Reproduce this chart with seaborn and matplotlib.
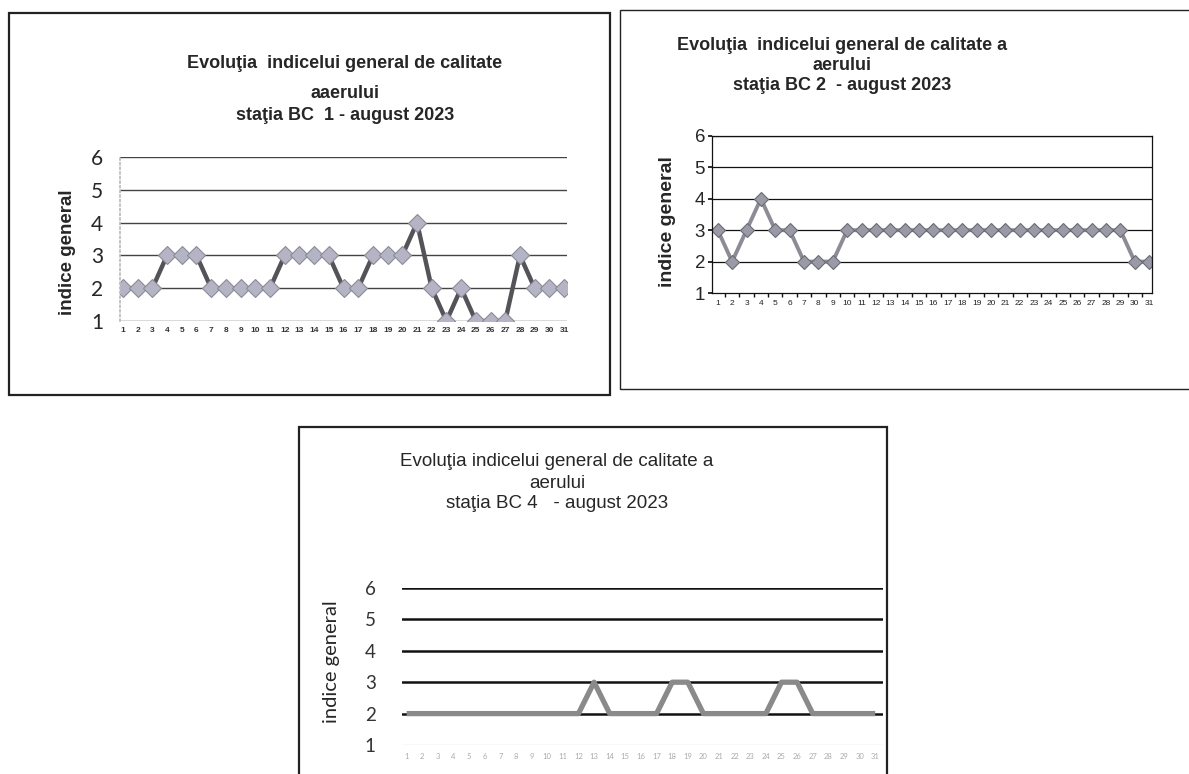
import numpy as np
import pandas as pd
import matplotlib
matplotlib.use("Agg")
import matplotlib.pyplot as plt
import seaborn as sns
from matplotlib.patches import Rectangle
from matplotlib.ticker import FixedLocator

# --- Data ---
days = list(range(1, 32))
bc1 = [2, 2, 2, 3, 3, 3, 2, 2, 2, 2, 2, 3, 3, 3, 3, 2, 2, 3, 3, 3,
       4, 2, 1, 2, 1, 1, 1, 3, 2, 2, 2]
bc2 = [3, 2, 3, 4, 3, 3, 2, 2, 2, 3, 3, 3, 3, 3, 3, 3, 3, 3, 3, 3,
       3, 3, 3, 3, 3, 3, 3, 3, 3, 2, 2]
bc4 = [2, 2, 2, 2, 2, 2, 2, 2, 2, 2, 2, 2, 3, 2, 2, 2, 2, 3, 3, 2,
       2, 2, 2, 2, 3, 3, 2, 2, 2, 2, 2]
y_ticks = [1, 2, 3, 4, 5, 6]

titles_bc1 = ["Evoluţia  indicelui general de calitate", "aaerului",
              "staţia BC  1 - august 2023"]
titles_bc2 = ["Evoluţia  indicelui general de calitate a", "aerului",
              "staţia BC 2  - august 2023"]
titles_bc4 = ["Evoluţia indicelui general de calitate a", "aerului",
              "staţia BC 4   - august 2023"]
ylabel = "indice general"

sns.set_theme(style="white")
plt.rcParams['font.family'] = ['Liberation Sans', 'DejaVu Sans']
CAL = ['Lato', 'DejaVu Sans']   # stand-in for Calibri

W, H = 1189, 774
fig = plt.figure(figsize=(W / 100, H / 100), dpi=100)


def px_axes(x0, y0, x1, y1):
    # pixel box (top-left origin) -> figure axes
    return fig.add_axes([x0 / W, 1 - y1 / H, (x1 - x0) / W, (y1 - y0) / H])


def px_box(x0, y0, x1, y1, lw):
    fig.patches.append(Rectangle((x0 / W, 1 - y1 / H), (x1 - x0) / W, (y1 - y0) / H,
                                 transform=fig.transFigure, fill=False,
                                 edgecolor="#222222", linewidth=lw))


def px_text(x, y, s, **kw):
    fig.text(x / W, 1 - y / H, s, ha="center", va="center", **kw)


# ---------------- Panel 1: BC 1 ----------------
px_box(9, 13, 610, 395, 1.6)
ax1 = px_axes(120, 157, 567, 321)
df1 = pd.DataFrame({"zi": days, "indice": bc1})
sns.lineplot(data=df1, x="zi", y="indice", ax=ax1, color="#545458", linewidth=3.2,
             marker="D", markersize=9, markerfacecolor="#b4b4c4",
             markeredgecolor="#8a8a98", markeredgewidth=0.8)
ax1.set_ylim(1, 6)
ax1.set_xlim(0.8, 31.2)
ax1.yaxis.set_major_locator(FixedLocator(y_ticks))
ax1.set_yticklabels([str(v) for v in y_ticks], fontsize=15, family=CAL)
ax1.set_xticks(days)
ax1.set_xticklabels([str(d) for d in days], fontsize=6, fontweight="bold", color="#333333")
for y in y_ticks:
    ax1.axhline(y, color="#444444", linewidth=1.0, zorder=0)
for s in ["top", "right", "bottom"]:
    ax1.spines[s].set_visible(False)
ax1.spines["left"].set_color("#bbbbbb")
ax1.spines["left"].set_linestyle(":")
ax1.tick_params(axis="both", length=0, pad=4)
ax1.tick_params(axis="y", pad=12)
ax1.set_xlabel("")
ax1.set_ylabel("")
fig.text(67 / W, 1 - 252 / H, ylabel, rotation=90, ha="center", va="center",
         fontsize=13.5, fontweight="bold")
for txt, yy in zip(titles_bc1, [64, 94, 115]):
    px_text(345, yy, txt, fontsize=13, fontweight="bold")

# ---------------- Panel 2: BC 2 ----------------
px_box(620, 10, 1195, 389, 1.0)
ax2 = px_axes(712, 136, 1152, 293)
df2 = pd.DataFrame({"zi": days, "indice": bc2})
sns.lineplot(data=df2, x="zi", y="indice", ax=ax2, color="#8c8c96", linewidth=2.8,
             marker="D", markersize=7.5, markerfacecolor="#9a9aa6",
             markeredgecolor="#6a6a74", markeredgewidth=0.8)
ax2.set_ylim(1, 6)
ax2.set_xlim(0.6, 31.2)
ax2.yaxis.set_major_locator(FixedLocator(y_ticks))
ax2.set_yticklabels([str(v) for v in y_ticks], fontsize=13.5)
ax2.set_xticks(days)
ax2.set_xticklabels([str(d) for d in days], fontsize=6, color="#222222")
ax2.set_xticks([d + 0.5 for d in days[:-1]], minor=True)
for y in y_ticks[1:]:
    ax2.axhline(y, color="#111111", linewidth=0.9, zorder=0)
for s in ["top", "right", "bottom", "left"]:
    ax2.spines[s].set_color("#111111")
    ax2.spines[s].set_linewidth(0.9)
ax2.tick_params(axis="x", which="major", length=0, pad=5)
ax2.tick_params(axis="x", which="minor", length=3, color="#111111", direction="out", bottom=True)
ax2.tick_params(axis="y", length=3, color="#111111", direction="out", left=True, pad=2)
ax2.set_xlabel("")
ax2.set_ylabel("")
fig.text(668 / W, 1 - 222 / H, ylabel, rotation=90, ha="center", va="center",
         fontsize=14, fontweight="bold")
for txt, yy in zip(titles_bc2, [45, 65, 85]):
    px_text(842, yy, txt, fontsize=13, fontweight="bold")

# ---------------- Panel 3: BC 4 ----------------
px_box(299, 427, 887, 790, 1.6)
ax3 = px_axes(402, 588, 883, 745)
df3 = pd.DataFrame({"zi": days, "indice": bc4})
sns.lineplot(data=df3, x="zi", y="indice", ax=ax3, color="#8a8a8a", linewidth=3.8,
             solid_capstyle="butt")
ax3.set_ylim(1, 6)
ax3.set_xlim(0.7, 31.5)
ax3.yaxis.set_major_locator(FixedLocator(y_ticks))
ax3.set_yticklabels([str(v) for v in y_ticks], fontsize=13.5, family=CAL, color="#333333")
ax3.set_xticks(days)
ax3.set_xticklabels([str(d) for d in days], fontsize=5.5, color="#aaaaaa", family=CAL)
for y in y_ticks[1:]:
    ax3.axhline(y, color="#111111", linewidth=1.8, zorder=0)
ax3.axhline(1, color="#dddddd", linewidth=1.0, zorder=0)
for s in ["top", "right", "bottom", "left"]:
    ax3.spines[s].set_visible(False)
ax3.tick_params(axis="both", length=0)
ax3.tick_params(axis="y", pad=19)
ax3.tick_params(axis="x", pad=6)
ax3.set_xlabel("")
ax3.set_ylabel("")
fig.text(332 / W, 1 - 662 / H, ylabel, rotation=90, ha="center", va="center",
         fontsize=14.5, family=CAL)
for txt, yy in zip(titles_bc4, [461, 483, 504]):
    px_text(557, yy, txt, fontsize=13.5)

fig.savefig("out.png", dpi=100, facecolor="white")
